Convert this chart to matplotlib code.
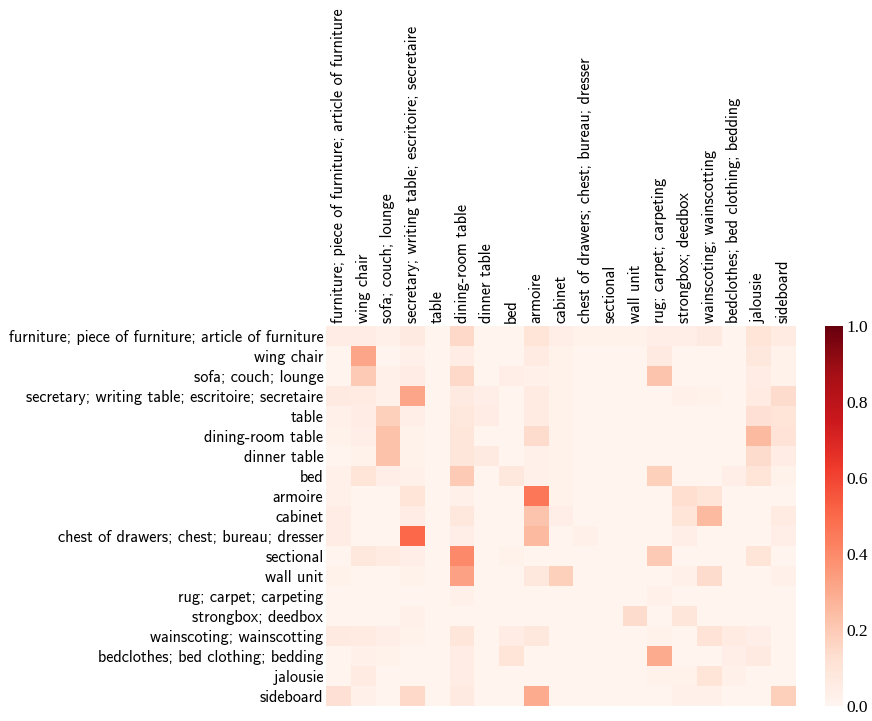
import numpy as np
import matplotlib
matplotlib.use('Agg')
import matplotlib.pyplot as plt

labels = [
    'furniture; piece of furniture; article of furniture',
    'wing chair',
    'sofa; couch; lounge',
    'secretary; writing table; escritoire; secretaire',
    'table',
    'dining-room table',
    'dinner table',
    'bed',
    'armoire',
    'cabinet',
    'chest of drawers; chest; bureau; dresser',
    'sectional',
    'wall unit',
    'rug; carpet; carpeting',
    'strongbox; deedbox',
    'wainscoting; wainscotting',
    'bedclothes; bed clothing; bedding',
    'jalousie',
    'sideboard',
]

# rows = true class, columns = predicted class
row_furniture = [0.05, 0.05, 0.03, 0.07, 0.01, 0.15, 0.01, 0.01, 0.10, 0.04, 0.02, 0.02, 0.02, 0.04, 0.04, 0.07, 0.01, 0.10, 0.06]
row_wing_chair = [0.01, 0.32, 0.01, 0.03, 0.01, 0.05, 0.01, 0.01, 0.06, 0.02, 0.01, 0.01, 0.01, 0.07, 0.01, 0.01, 0.01, 0.08, 0.02]
row_sofa = [0.01, 0.20, 0.03, 0.05, 0.01, 0.15, 0.01, 0.04, 0.03, 0.02, 0.01, 0.01, 0.01, 0.22, 0.01, 0.01, 0.01, 0.05, 0.02]
row_secretary = [0.07, 0.06, 0.03, 0.32, 0.01, 0.07, 0.04, 0.01, 0.06, 0.02, 0.01, 0.01, 0.01, 0.01, 0.03, 0.02, 0.01, 0.06, 0.14]
row_table = [0.03, 0.05, 0.18, 0.04, 0.01, 0.08, 0.05, 0.01, 0.06, 0.02, 0.01, 0.01, 0.01, 0.01, 0.01, 0.01, 0.01, 0.12, 0.10]
row_dining = [0.02, 0.04, 0.23, 0.02, 0.01, 0.09, 0.01, 0.01, 0.14, 0.02, 0.01, 0.01, 0.01, 0.01, 0.01, 0.01, 0.01, 0.25, 0.11]
row_dinner = [0.01, 0.02, 0.23, 0.02, 0.01, 0.09, 0.07, 0.01, 0.03, 0.02, 0.01, 0.01, 0.01, 0.01, 0.01, 0.01, 0.01, 0.14, 0.05]
row_bed = [0.03, 0.10, 0.04, 0.03, 0.01, 0.20, 0.01, 0.08, 0.03, 0.02, 0.01, 0.01, 0.01, 0.18, 0.01, 0.01, 0.04, 0.10, 0.02]
row_armoire = [0.03, 0.01, 0.01, 0.10, 0.01, 0.03, 0.01, 0.01, 0.46, 0.02, 0.01, 0.01, 0.01, 0.01, 0.13, 0.10, 0.01, 0.01, 0.01]
row_cabinet = [0.05, 0.01, 0.01, 0.05, 0.01, 0.08, 0.01, 0.01, 0.22, 0.04, 0.01, 0.01, 0.01, 0.01, 0.10, 0.25, 0.01, 0.01, 0.06]
row_chest = [0.05, 0.01, 0.01, 0.50, 0.01, 0.04, 0.01, 0.01, 0.25, 0.01, 0.03, 0.01, 0.01, 0.01, 0.04, 0.01, 0.01, 0.01, 0.04]
row_sectional = [0.01, 0.08, 0.06, 0.04, 0.01, 0.40, 0.01, 0.02, 0.01, 0.01, 0.01, 0.01, 0.01, 0.20, 0.01, 0.01, 0.01, 0.10, 0.01]
row_wall_unit = [0.02, 0.01, 0.01, 0.02, 0.01, 0.33, 0.01, 0.01, 0.08, 0.18, 0.01, 0.01, 0.01, 0.01, 0.03, 0.14, 0.01, 0.01, 0.03]
row_rug = [0.01, 0.01, 0.01, 0.01, 0.01, 0.03, 0.01, 0.01, 0.01, 0.01, 0.01, 0.01, 0.01, 0.03, 0.01, 0.01, 0.01, 0.01, 0.01]
row_strongbox = [0.01, 0.01, 0.01, 0.03, 0.01, 0.01, 0.01, 0.01, 0.01, 0.01, 0.01, 0.01, 0.14, 0.01, 0.09, 0.01, 0.01, 0.01, 0.01]
row_wainscoting = [0.07, 0.06, 0.04, 0.02, 0.01, 0.09, 0.01, 0.05, 0.08, 0.01, 0.01, 0.01, 0.01, 0.02, 0.01, 0.11, 0.06, 0.04, 0.01]
row_bedclothes = [0.01, 0.03, 0.02, 0.01, 0.01, 0.05, 0.01, 0.10, 0.01, 0.01, 0.01, 0.01, 0.01, 0.30, 0.01, 0.01, 0.04, 0.07, 0.01]
row_jalousie = [0.01, 0.06, 0.01, 0.01, 0.01, 0.05, 0.01, 0.01, 0.01, 0.01, 0.01, 0.01, 0.01, 0.02, 0.02, 0.10, 0.03, 0.01, 0.01]
row_sideboard = [0.12, 0.03, 0.01, 0.15, 0.01, 0.07, 0.01, 0.01, 0.30, 0.01, 0.01, 0.01, 0.01, 0.01, 0.03, 0.03, 0.01, 0.01, 0.18]

matrix = np.array([row_furniture, row_wing_chair, row_sofa, row_secretary, row_table,
                   row_dining, row_dinner, row_bed, row_armoire, row_cabinet, row_chest,
                   row_sectional, row_wall_unit, row_rug, row_strongbox, row_wainscoting,
                   row_bedclothes, row_jalousie, row_sideboard])

cb_ticks = [0.0, 0.2, 0.4, 0.6, 0.8, 1.0]

plt.rcParams['font.family'] = ['cmss10', 'DejaVu Sans']
plt.rcParams['axes.unicode_minus'] = False

fig = plt.figure(figsize=(8.72, 7.21), dpi=100)
ax = fig.add_axes([0.374, 0.021, 0.5385, 0.527])
cax = fig.add_axes([0.946, 0.021, 0.021, 0.527])

mesh = ax.pcolormesh(matrix, cmap='Reds', vmin=0, vmax=1)
ax.set_xlim(0, len(labels))
ax.set_ylim(len(labels), 0)
ax.xaxis.tick_top()
ax.set_xticks(np.arange(len(labels)) + 0.5)
ax.set_yticks(np.arange(len(labels)) + 0.5)
ax.set_xticklabels(labels, rotation=90, fontsize=11.7)
ax.set_yticklabels(labels, fontsize=11.7)
ax.tick_params(length=0, pad=2)
for s in ax.spines.values():
    s.set_visible(False)

cb = fig.colorbar(mesh, cax=cax)
cb.set_ticks(cb_ticks)
cb.set_ticklabels([f'{t:.1f}' for t in cb_ticks])
for t in cax.get_yticklabels():
    t.set_family('Liberation Serif')
    t.set_fontsize(12.5)
cax.tick_params(length=0, pad=2)
cb.outline.set_visible(False)

fig.savefig('out.png', dpi=100)
